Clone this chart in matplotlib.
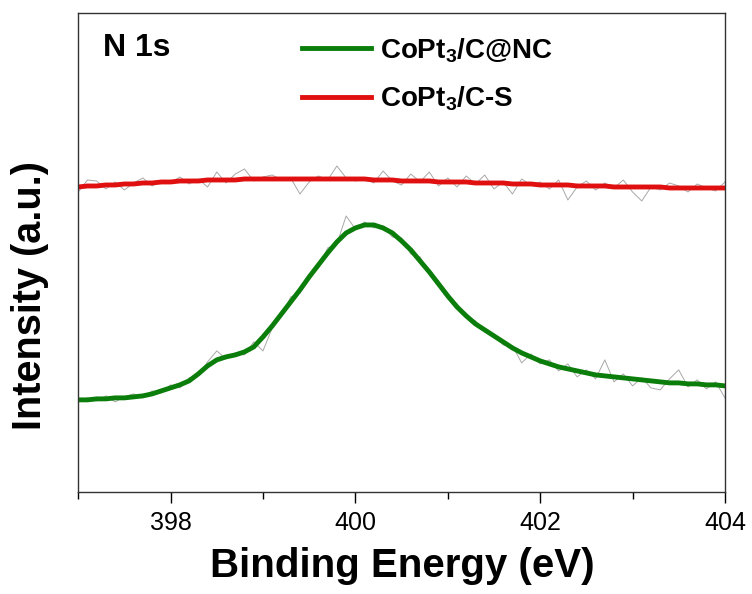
import numpy as np
import matplotlib
matplotlib.use('Agg')
from matplotlib import pyplot as plt

plt.rcParams['font.family'] = ['Liberation Sans', 'DejaVu Sans']
plt.rcParams['mathtext.fontset'] = 'custom'
plt.rcParams['mathtext.rm'] = 'Liberation Sans'
plt.rcParams['mathtext.bf'] = 'Liberation Sans:bold'
plt.rcParams['mathtext.default'] = 'regular'

# 结合能网格 (eV)
energy = np.round(np.linspace(397.0, 404.0, 71), 1)

# CoPt3/C@NC 拟合曲线
nc_fit = [92, 92, 93, 93, 94, 94, 95, 96, 98, 101,
          104, 107, 111, 118, 126, 132, 135, 137, 140, 145,
          155, 166, 178, 190, 202, 215, 227, 239, 250, 259,
          264, 267, 267, 264, 259, 251, 242, 231, 220, 208,
          196, 185, 176, 168, 162, 156, 150, 144, 139, 135,
          131, 128, 125, 123, 121, 119, 117, 116, 115, 114,
          113, 112, 111, 110, 109, 109, 108, 108, 107, 107,
          106]
# CoPt3/C@NC 原始数据
nc_raw = [90, 94, 91, 96, 90, 95, 98, 94, 101, 99,
          107, 104, 114, 116, 130, 141, 133, 139, 137, 150,
          141, 164, 176, 195, 199, 218, 224, 244, 248, 276,
          263, 270, 264, 266, 255, 254, 238, 235, 218, 211,
          193, 188, 174, 171, 160, 158, 147, 146, 129, 138,
          128, 132, 121, 128, 115, 122, 113, 132, 110, 118,
          106, 114, 104, 102, 113, 122, 105, 112, 103, 110,
          94]

# CoPt3/C-S 拟合曲线
s_fit = [305, 306, 306, 307, 307, 308, 308, 309, 309, 310,
         310, 311, 311, 311, 312, 312, 312, 312, 313, 313,
         313, 313, 313, 313, 313, 313, 313, 313, 313, 313,
         313, 313, 312, 312, 312, 311, 311, 311, 311, 310,
         310, 310, 310, 309, 309, 309, 309, 308, 308, 308,
         307, 307, 307, 307, 306, 306, 306, 306, 305, 305,
         305, 305, 305, 305, 304, 304, 304, 304, 304, 304,
         304]
# CoPt3/C-S 原始数据
s_raw = [300, 312, 311, 303, 310, 302, 309, 314, 306, 311,
         309, 315, 308, 313, 305, 320, 309, 318, 323, 311,
         315, 317, 312, 314, 298, 310, 316, 312, 326, 314,
         311, 313, 309, 321, 311, 307, 318, 310, 320, 306,
         314, 305, 316, 308, 317, 303, 310, 298, 313, 307,
         310, 303, 312, 292, 305, 311, 302, 309, 304, 312,
         300, 291, 305, 302, 309, 306, 300, 308, 304, 301,
         310]

fig = plt.figure(figsize=(7.52, 5.94), dpi=100)
ax = fig.add_axes([0.104, 0.172, 0.86, 0.806])

ax.plot(energy, s_raw, color='#a8a8a8', lw=0.7)
ax.plot(energy, nc_raw, color='#a8a8a8', lw=0.7)
ax.plot(energy, nc_fit, color='#0a7d0a', lw=3.5, label=r'$\mathbf{CoPt}_3\mathbf{/C@NC}$')
ax.plot(energy, s_fit, color='#e01010', lw=3.5, label=r'$\mathbf{CoPt}_3\mathbf{/C}$-$\mathbf{S}$')

ax.set_xlim(397, 404)
ax.set_ylim(0, 479)
ax.set_xticks([398, 400, 402, 404])
ax.set_xticks([397, 399, 401, 403], minor=True)
ax.set_yticks([])
ax.tick_params(axis='x', which='major', direction='out', length=8, width=1, labelsize=18, pad=6)
ax.tick_params(axis='x', which='minor', direction='out', length=5, width=1)
for sp in ax.spines.values():
    sp.set_linewidth(1.0)
    sp.set_color('#333333')

fig.text(0.535, 0.047, 'Binding Energy (eV)', fontsize=29, fontweight='bold', ha='center', va='center')
fig.text(0.04, 0.503, 'Intensity (a.u.)', fontsize=28.5, fontweight='bold', ha='center', va='center', rotation=90)
ax.text(0.039, 0.928, 'N 1s', transform=ax.transAxes, fontsize=23, fontweight='bold', va='center')

leg = ax.legend(loc='upper left', bbox_to_anchor=(0.346, 0.952), frameon=False,
                handlelength=2.5, handletextpad=0.3, labelspacing=0.72,
                borderpad=0, borderaxespad=0, prop={'weight': 'bold', 'size': 20})

fig.savefig('out.png', dpi=100)
